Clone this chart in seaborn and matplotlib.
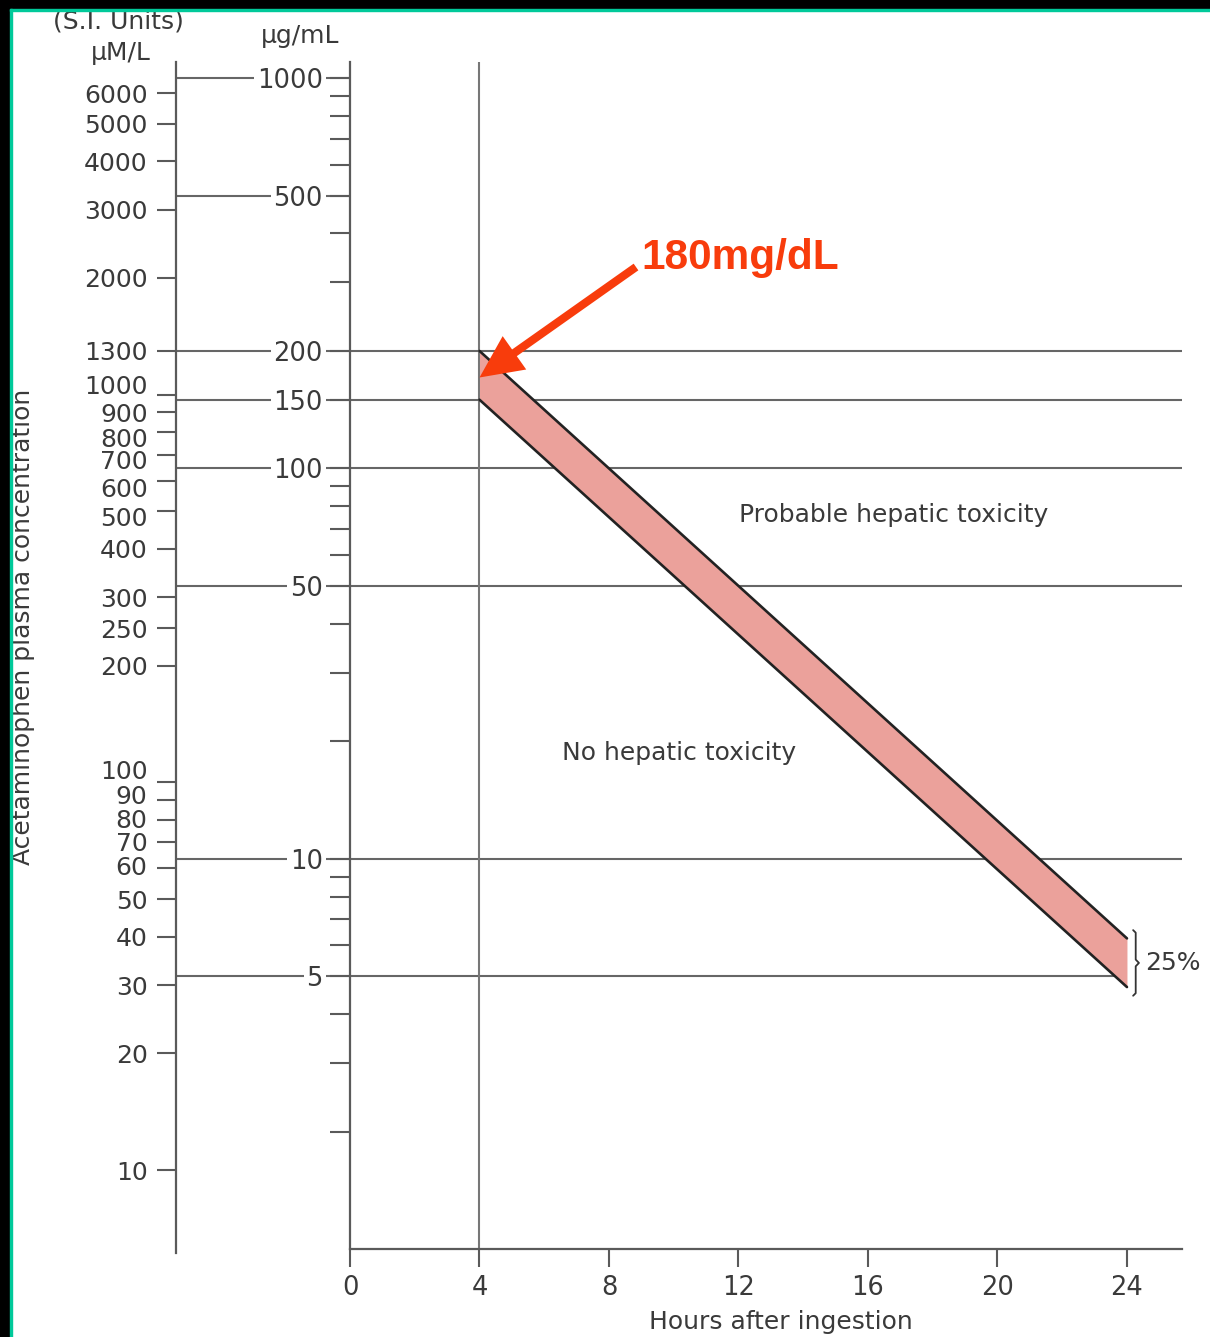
import numpy as np
import matplotlib
matplotlib.use("Agg")
import matplotlib.pyplot as plt
import seaborn as sns
from matplotlib.transforms import blended_transform_factory, ScaledTranslation
from matplotlib.patches import Rectangle
from matplotlib.ticker import FixedLocator, FixedFormatter, NullFormatter, NullLocator

# ---------------- data ----------------
hours = [4, 24]                       # nomogram line start / end (h)
upper_line = [200, 6.25]              # µg/mL, original Rumack-Matthew line
lower_line = [150, 4.69]              # µg/mL, 25 % lower treatment line
x_ticks = [0, 4, 8, 12, 16, 20, 24]
ugml_major = [1000, 500, 200, 150, 100, 50, 10, 5]
ugml_minor = [900, 800, 700, 600, 400, 300, 90, 80, 70, 60, 40, 30, 20,
              9, 8, 7, 6, 4, 3, 2]
umol_ticks = [6000, 5000, 4000, 3000, 2000, 1300, 1000, 900, 800, 700, 600,
              500, 400, 300, 250, 200, 100, 90, 80, 70, 60, 50, 40, 30, 20, 10]
ref_full = [200, 150, 100, 50, 10]    # reference lines across the chart
ref_to24 = [5]                        # reference line ending at 24 h
ref_short = [1000, 500]               # only between the two scales
annot_tip = 171                       # where the arrow points (µg/mL at 4 h)
annot_label = "180mg/dL"
region_labels = ["Probable hepatic toxicity", "No hepatic toxicity"]
region_pos = [(16.8, 76), (10.15, 18.7)]

# ---------------- style ----------------
sns.set_theme(style="white")
plt.rcParams["font.family"] = ["DejaVu Sans"]
TXT = "#3a3a3a"
AX = "#5a5a5a"
LINE = "#666666"
BAND = "#EBA19B"
RED = "#F83C0C"
FS_TICK = 18.5
FS = 18

W, H, DPI = 1210, 1337, 100
fig = plt.figure(figsize=(W / DPI, H / DPI), dpi=DPI, facecolor="white")


def fx(px):
    return px / W


def fy(py):
    return 1 - py / H


# main axes (µg/mL, log scale)
ax = fig.add_axes([fx(350), fy(1249), fx(1182) - fx(350), fy(62) - fy(1249)])
ax.set_facecolor("none")
ax.set_yscale("log")
ax.set_ylim(1.0, 1100)
ax.set_xlim(0, 25.7)
ax.set_axisbelow(False)
for s in ["top", "right"]:
    ax.spines[s].set_visible(False)
for s in ["left", "bottom"]:
    ax.spines[s].set_color(AX)
    ax.spines[s].set_linewidth(1.6)

ax.yaxis.set_major_locator(FixedLocator(ugml_major))
ax.yaxis.set_major_formatter(FixedFormatter([str(v) for v in ugml_major]))
ax.yaxis.set_minor_locator(FixedLocator(ugml_minor))
ax.yaxis.set_minor_formatter(NullFormatter())
ax.set_xticks(x_ticks)
ax.set_xticklabels([str(v) for v in x_ticks])
ax.tick_params(axis="y", which="both", direction="out", length=14.5, width=1.5,
               color=AX, left=True, pad=5, labelsize=FS_TICK, labelcolor=TXT)
ax.tick_params(axis="x", which="major", direction="out", length=13, width=1.5,
               color=AX, bottom=True, pad=6, labelsize=FS_TICK, labelcolor=TXT)
for lbl in ax.get_yticklabels():
    lbl.set_bbox(dict(facecolor="white", edgecolor="none", pad=2))
ax.set_xlabel("Hours after ingestion", fontsize=FS, color=TXT)
ax.xaxis.set_label_coords(0.518, -0.051)

# left axes (µM/L, log scale)
ax2 = fig.add_axes([fx(176), fy(1253), 0.0001, fy(62) - fy(1253)])
ax2.set_facecolor("none")
ax2.set_yscale("log")
ax2.set_ylim(10 ** ((1557.8 - 1253) / 387.7), 10 ** ((1557.8 - 62) / 387.7))
for s in ["top", "right", "bottom"]:
    ax2.spines[s].set_visible(False)
ax2.spines["left"].set_color(AX)
ax2.spines["left"].set_linewidth(1.6)
ax2.xaxis.set_major_locator(NullLocator())
ax2.yaxis.set_major_locator(FixedLocator(umol_ticks))
ax2.yaxis.set_major_formatter(FixedFormatter([str(v) for v in umol_ticks]))
ax2.yaxis.set_minor_locator(NullLocator())
ax2.tick_params(axis="y", which="major", direction="out", length=13.5, width=1.5,
                color=AX, left=True, pad=7, labelsize=18, labelcolor=TXT)
# crowded labels are spread a little, as on the printed nomogram (pixels, + = down)
label_shift = {1000: -10, 800: 5, 700: 5, 600: 7, 500: 5,
               100: -13, 90: -6, 80: -1, 70: -1, 60: -3}
for lbl, v in zip(ax2.get_yticklabels(), umol_ticks):
    d = label_shift.get(v, 0)
    if d:
        lbl.set_transform(lbl.get_transform() +
                          ScaledTranslation(0, -d / DPI, fig.dpi_scale_trans))

# reference lines between the two scales
x_left = (fx(176) - fx(350)) / (fx(1182) - fx(350))
btr = blended_transform_factory(ax.transAxes, ax.transData)
ax.hlines(ref_short + ref_full + ref_to24, x_left, 0, transform=btr,
          colors=LINE, lw=1.5, clip_on=False, zorder=1)
# reference lines across the chart
ax.hlines(ref_full, 0, 25.7, colors=LINE, lw=1.5, zorder=1)
ax.hlines(ref_to24, 0, hours[-1], colors=LINE, lw=1.5, zorder=1)
ax.axvline(hours[0], color="#777777", lw=1.5, zorder=1)

# nomogram band
ax.fill_between(hours, lower_line, upper_line, color=BAND, lw=0, zorder=3)
sns.lineplot(x=hours, y=upper_line, ax=ax, color="#222222", lw=1.9, zorder=4)
sns.lineplot(x=hours, y=lower_line, ax=ax, color="#222222", lw=1.9, zorder=4)

# 25 % brace
xb = hours[-1] + 0.27
top = upper_line[-1] * 1.05
bot = lower_line[-1] * 0.95
mid = np.sqrt(top * bot)
ax.plot([xb - 0.08, xb, xb, xb + 0.1, xb, xb, xb - 0.08],
        [top, top * 0.985, mid * 1.02, mid, mid / 1.02, bot / 0.985, bot],
        color="#333333", lw=1.3, clip_on=False, zorder=4)
ax.text(xb + 0.3, mid, "25%", fontsize=FS, color=TXT, ha="left",
        va="center", clip_on=False)

# region labels
for lab, (xp, yp) in zip(region_labels, region_pos):
    ax.text(xp, yp, lab, fontsize=FS, color=TXT, ha="center", va="center")

# 180 mg/dL arrow
ax.annotate("", xy=(hours[0], annot_tip), xycoords="data",
            xytext=(fx(636), fy(267)), textcoords="figure fraction",
            arrowprops=dict(arrowstyle="simple,head_length=1.1,head_width=1.05,tail_width=0.21",
                            facecolor=RED, edgecolor="none", lw=0,
                            shrinkA=0, shrinkB=0, mutation_scale=28),
            annotation_clip=False, zorder=6)
fig.text(fx(641), fy(258), annot_label, fontsize=30.5, fontweight="bold",
         color=RED, ha="left", va="center", family=["Liberation Sans", "DejaVu Sans"])

# headers and y title
fig.text(fx(118), fy(22), "(S.I. Units)", fontsize=FS, color=TXT, ha="center", va="center")
fig.text(fx(121), fy(53), "µM/L", fontsize=FS, color=TXT, ha="center", va="center")
fig.text(fx(300), fy(36), "µg/mL", fontsize=FS, color=TXT, ha="center", va="center")
fig.text(fx(23), fy(627), "Acetaminophen plasma concentration", fontsize=FS,
         color=TXT, ha="center", va="center", rotation=90)

# frame (black strip with teal rule, top and left)
fig.add_artist(Rectangle((0, fy(9)), 1, 9 / H, transform=fig.transFigure,
                         color="black", zorder=20))
fig.add_artist(Rectangle((0, 0), 10 / W, 1, transform=fig.transFigure,
                         color="black", zorder=20))
fig.add_artist(Rectangle((fx(10), fy(11)), 1, 2 / H, transform=fig.transFigure,
                         color="#00C99A", zorder=21))
fig.add_artist(Rectangle((fx(10), 0), 2 / W, fy(9), transform=fig.transFigure,
                         color="#00C99A", zorder=21))

fig.savefig("out.png", dpi=DPI, facecolor="white")
